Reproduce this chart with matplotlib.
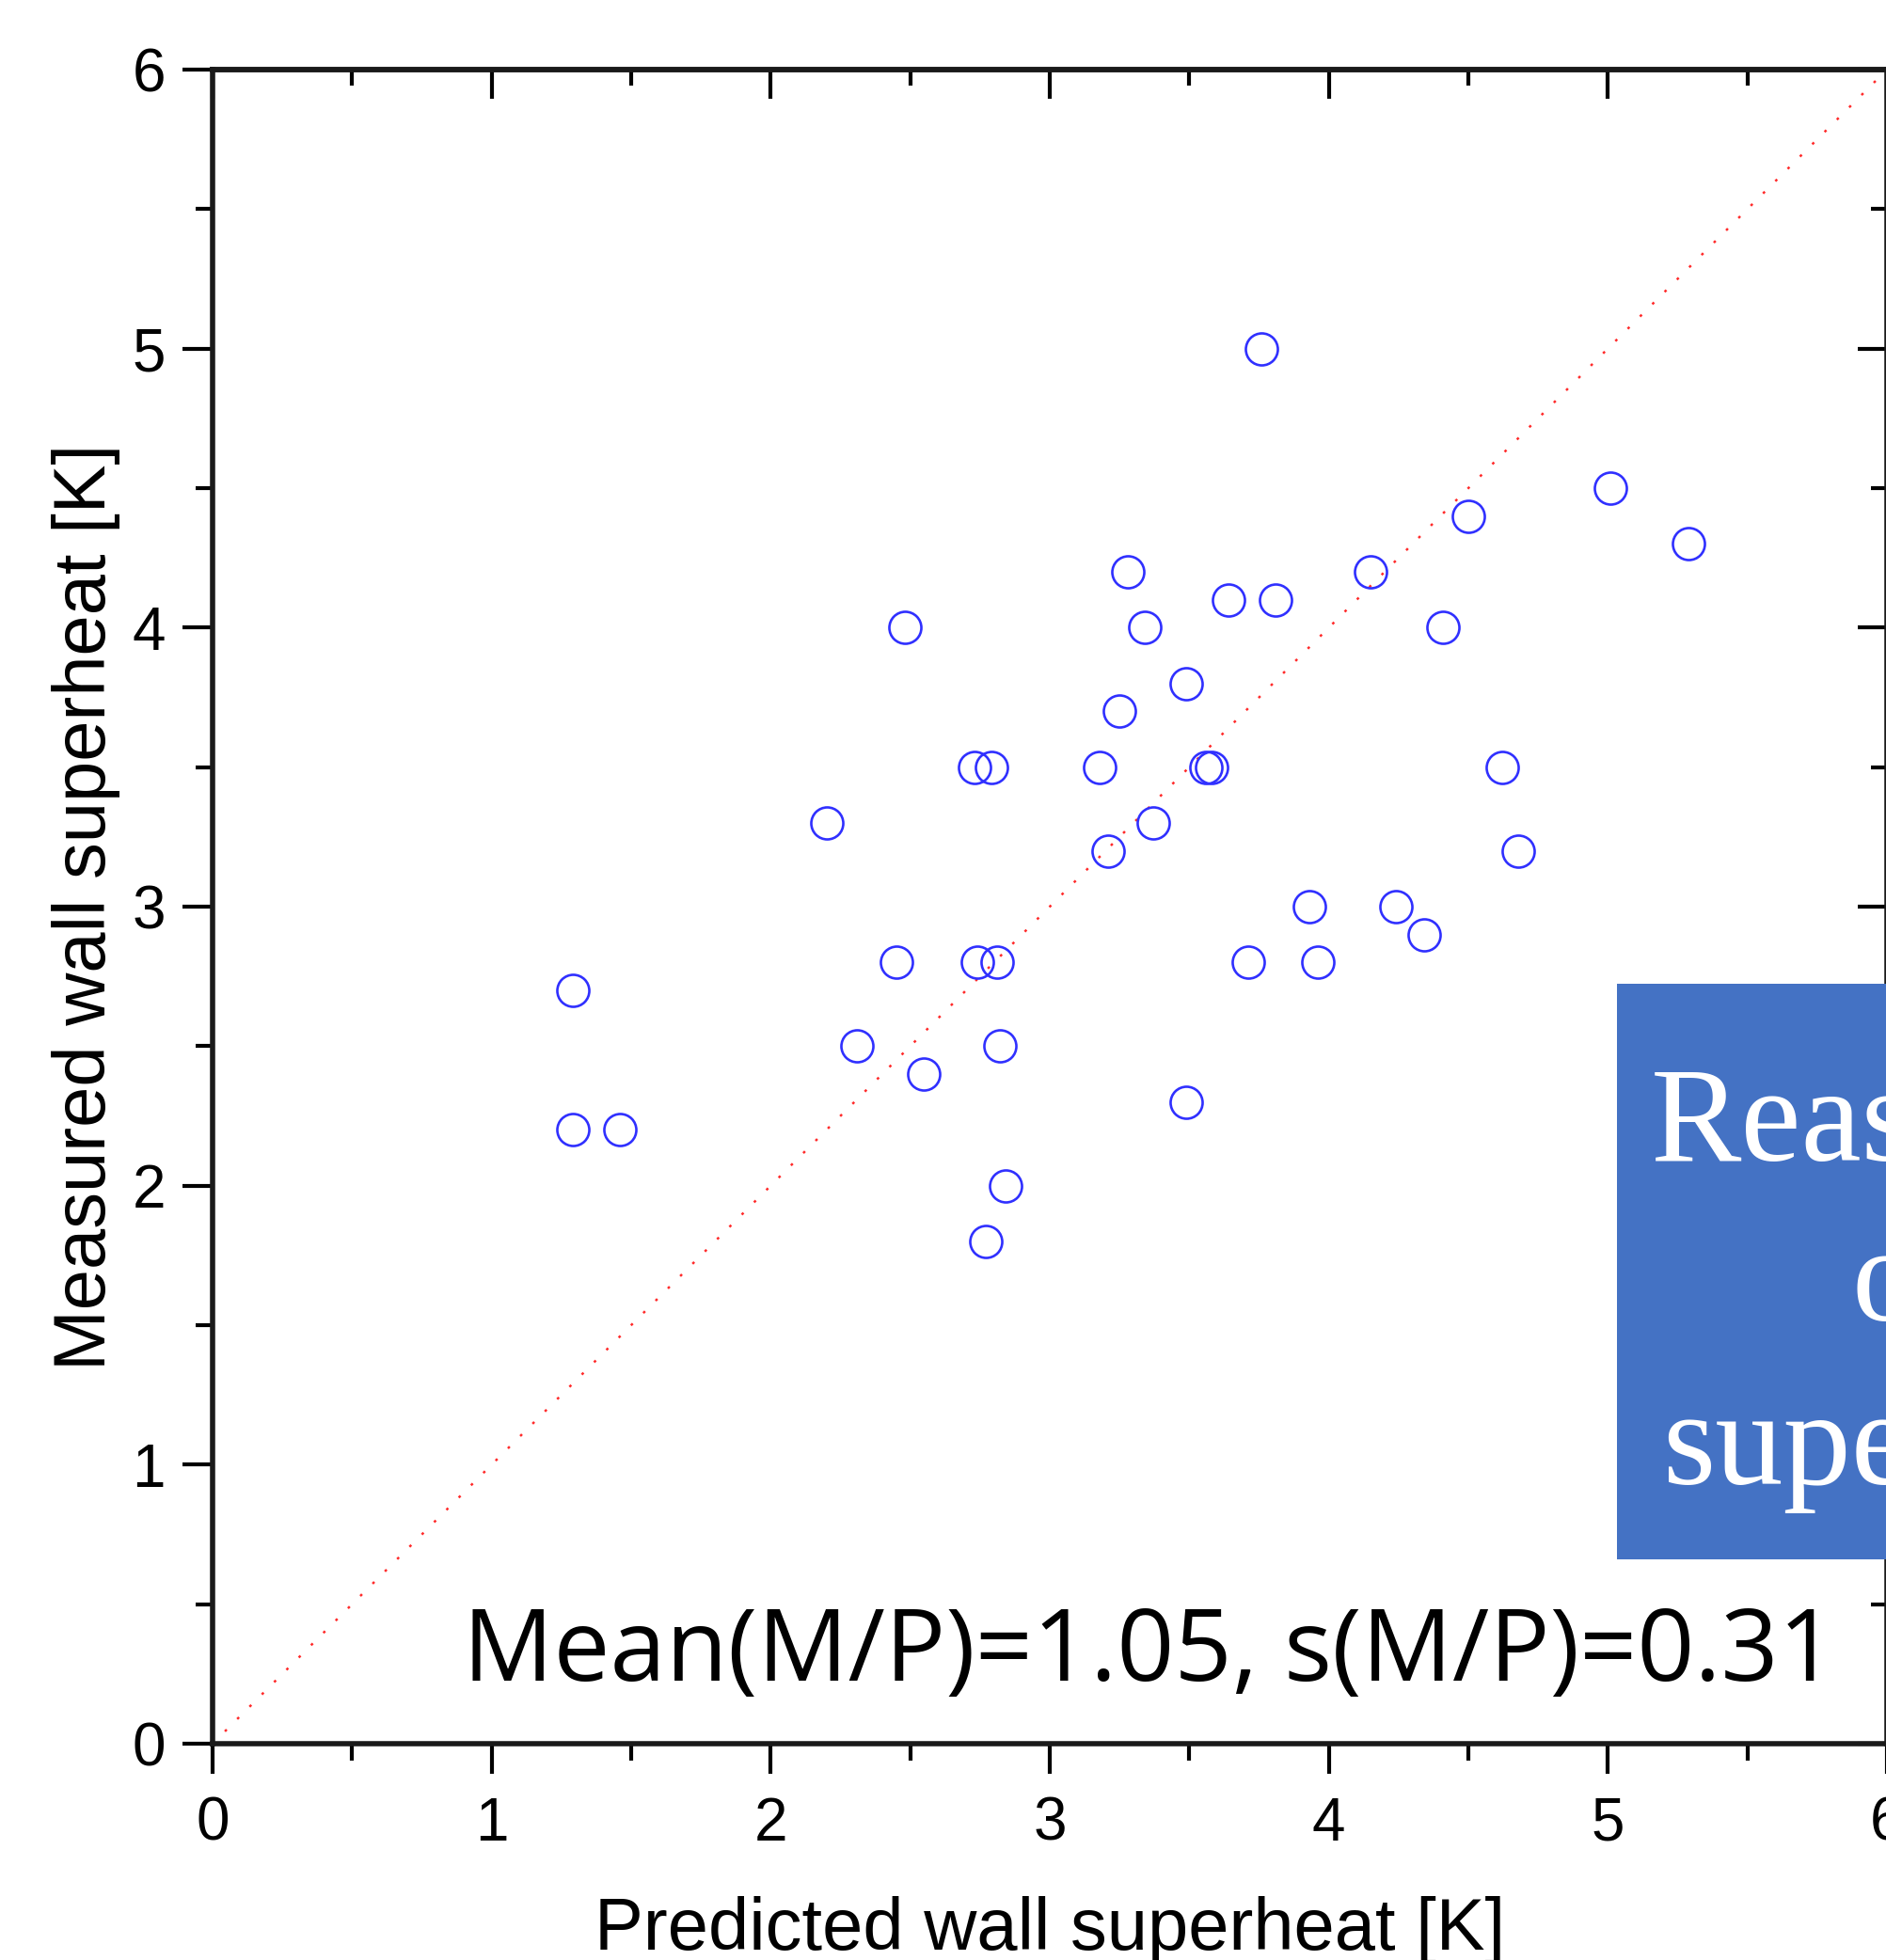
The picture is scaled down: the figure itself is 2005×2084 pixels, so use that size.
import matplotlib
matplotlib.use("Agg")
import matplotlib.pyplot as plt  # noqa: E402
from matplotlib.patches import Rectangle  # noqa: E402
from matplotlib.ticker import MultipleLocator  # noqa: E402

# predicted vs measured wall superheat [K]
predicted = [3.76, 5.01, 5.29, 4.50, 3.28, 4.15, 3.64, 3.81, 2.48, 3.34,
             4.41, 3.49, 3.25, 2.73, 2.79, 3.18, 3.56, 3.58, 4.62, 2.20,
             3.37, 3.21, 4.68, 3.93, 4.24, 4.34, 1.29, 2.45, 2.74, 2.81,
             3.71, 3.96, 2.31, 2.82, 2.55, 3.49, 1.29, 1.46, 2.84, 2.77]
measured = [5.0, 4.5, 4.3, 4.4, 4.2, 4.2, 4.1, 4.1, 4.0, 4.0,
            4.0, 3.8, 3.7, 3.5, 3.5, 3.5, 3.5, 3.5, 3.5, 3.3,
            3.3, 3.2, 3.2, 3.0, 3.0, 2.9, 2.7, 2.8, 2.8, 2.8,
            2.8, 2.8, 2.5, 2.5, 2.4, 2.3, 2.2, 2.2, 2.0, 1.8]
parity = [0, 6]
ticks = [0, 1, 2, 3, 4, 5, 6]
stats_text = "Mean(M/P)=1.05, s(M/P)=0.31"
box_lines = ["Reasons", "of", "superheat"]

W, H = 2005, 2084
fig = plt.figure(figsize=(W / 100, H / 100), dpi=100)
ax = fig.add_axes([226 / W, 1 - 1854 / H, 1780 / W, 1780 / H])

ax.plot(parity, parity, color="#ff2a2a", lw=1.8, linestyle=(0, (1.1, 6.3)),
        zorder=2)
ax.plot(predicted, measured, linestyle="none", marker="o", ms=24.5,
        mfc="none", mec="#3030ff", mew=1.9, zorder=3)

ax.set_xlim(0, 6)
ax.set_ylim(0, 6)
ax.set_xticks(ticks)
ax.set_yticks(ticks)
ax.xaxis.set_minor_locator(MultipleLocator(0.5))
ax.yaxis.set_minor_locator(MultipleLocator(0.5))

for s in ax.spines.values():
    s.set_linewidth(4)
    s.set_color("#1a1a1a")

ax.tick_params(which="major", direction="out", length=23, width=3,
               top=False, right=False)
ax.tick_params(which="minor", direction="out", length=13, width=3,
               top=False, right=False)
ax.tick_params(axis="x", which="major", pad=17)
ax.tick_params(axis="y", which="major", pad=13)
for lab in ax.get_xticklabels() + ax.get_yticklabels():
    lab.set_fontfamily("Liberation Sans")
    lab.set_fontsize(46)

# inward ticks on the top and right edges
top = ax.secondary_xaxis("top")
right = ax.secondary_yaxis("right")
for sec, axis in ((top, top.xaxis), (right, right.yaxis)):
    axis.set_major_locator(MultipleLocator(1))
    axis.set_minor_locator(MultipleLocator(0.5))
    sec.tick_params(which="major", direction="in", length=22, width=3,
                    labeltop=False, labelright=False)
    sec.tick_params(which="minor", direction="in", length=12, width=3)
    for s in sec.spines.values():
        s.set_linewidth(4)
        s.set_color("#1a1a1a")

ax.set_xlabel("Predicted wall superheat [K]", family="Liberation Sans", size=56)
ax.set_ylabel("Measured wall superheat [K]", family="Liberation Sans", size=56)
ax.xaxis.set_label_coords(0.5, (1854 - 2016) / 1780)
ax.yaxis.set_label_coords((128 - 226) / 1780, 0.5)

ax.text((492 - 226) / 1780, (1854 - 1787) / 1780, stats_text,
        transform=ax.transAxes, ha="left", va="baseline",
        family="Open Sans", size=77, zorder=4)

# blue call-out box, cut by the right edge of the picture
box = Rectangle((1719 / W, 1 - 1658 / H), 600 / W, (1658 - 1046) / H,
                transform=fig.transFigure, facecolor="#4472c4",
                edgecolor="none", zorder=5)
fig.patches.append(box)
for txt, px, py in zip(box_lines, [1755, 1969, 1767], [1234, 1404, 1578]):
    fig.text(px / W, 1 - py / H, txt, ha="left", va="baseline",
             color="white", family="Liberation Serif", size=104, zorder=6)

fig.savefig("out.png", dpi=100)
